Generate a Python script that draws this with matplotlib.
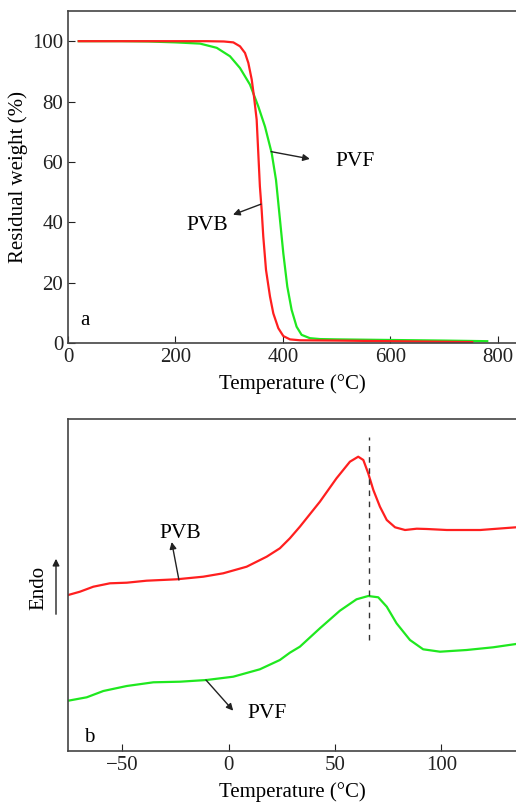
import matplotlib
matplotlib.use("Agg")
from matplotlib import pyplot as plt
from matplotlib.patches import FancyArrowPatch

plt.rcParams['font.family'] = ['Liberation Serif', 'DejaVu Serif']

# (a) TGA, residual weight (%) vs temperature (C)
pvb_t = [20, 100, 200, 258, 290, 307.6, 320, 329.3, 335.5, 341.8, 346, 351, 354, 357, 360.3, 363.3,
         368.4, 375.8, 382, 391.3, 400.6, 413, 431.6, 500, 600, 700, 752]
pvb_w = [100, 100, 100, 100, 99.9, 99.6, 98.3, 96.1, 92.8, 87.3, 81.7, 74, 63, 51.9, 44.1, 35.3,
         24.2, 15.4, 9.8, 4.9, 2.3, 1.2, 0.9, 0.8, 0.6, 0.4, 0.3]
pvf_t = [20, 100, 150, 200, 245.6, 276.7, 301.4, 320, 338.6, 354, 366.5, 379, 387, 394.4, 400.6, 408,
         416, 425.3, 434.6, 450, 469, 500, 600, 700, 780]
pvf_w = [100, 100, 99.9, 99.6, 99.2, 97.8, 95, 91.1, 85.6, 78.4, 71.7, 62.9, 54, 40.8, 29.7, 18.7,
         11, 5.4, 2.7, 1.6, 1.3, 1.2, 1.0, 0.8, 0.6]

# (b) DSC, heat flow in arbitrary units
dsc_pvb_t = [-75.3, -69.8, -63.5, -55.7, -47.8, -38.5, -24.4, -11.9, -2.5, 8.5, 17.9, 24.1, 28.8, 33.5,
             42.9, 50.7, 57, 60.9, 63.3, 65.6, 68, 71.1, 74.3, 78.2, 82.9, 88.4, 93.1, 102.5, 118.2, 135]
dsc_pvb_y = [156, 159.3, 164.3, 167.7, 168.3, 170.3, 171.7, 174.3, 177.7, 184.3, 194.3, 202.7, 212.7, 224.3,
             249.3, 272.7, 289.3, 294.3, 291, 277.7, 261, 244.3, 231, 223.7, 221, 222.3, 222, 221, 221, 223.7]
dsc_pvf_t = [-75.3, -66.6, -58.8, -47.8, -35.3, -22.8, -10.3, 2.2, 14.7, 24.1, 28.8, 33.5, 42.9, 52.3,
             60.1, 65.6, 70.3, 74.3, 78.9, 85.2, 91.4, 99.3, 111.8, 124.3, 135]
dsc_pvf_y = [50.3, 53.7, 60, 65, 68.7, 69.3, 71, 74.3, 81.7, 91, 98.3, 104.3, 122.7, 140.3,
             151.7, 155, 153.7, 144.3, 127.7, 111, 101.7, 99.3, 101, 103.7, 107]
peak_t = 66.0

red = '#ff1f1f'
green = '#1fe81f'
W, H = 516, 807
fig = plt.figure(figsize=(W / 100, H / 100), dpi=100)


def arrow(ax, head, tail):
    ax.annotate('', xy=head, xytext=tail,
                arrowprops=dict(arrowstyle='-|>', color='#222222', lw=1, shrinkA=0, shrinkB=0,
                                mutation_scale=10))


ax1 = fig.add_axes([68 / W, 1 - 343 / H, 448 / W, 332 / H])
ax1.plot(pvf_t, pvf_w, color=green, lw=1.6)
ax1.plot(pvb_t, pvb_w, color=red, lw=1.6)
ax1.set_xlim(0, 833.5)
ax1.set_ylim(0, 110)
ax1.set_xticks([0, 200, 400, 600, 800])
ax1.set_yticks([0, 20, 40, 60, 80, 100])
ax1.set_xlabel('Temperature (°C)', fontsize=15, labelpad=5)
ax1.set_ylabel('Residual weight (%)', fontsize=15, labelpad=3)
ax1.text(22, 6, 'a', fontsize=15)
ax1.text(497, 60, 'PVF', fontsize=15.5, va='center', ha='left')
arrow(ax1, (450, 61), (378, 63.4))
ax1.text(259, 39, 'PVB', fontsize=15.5, ha='center', va='center')
arrow(ax1, (307, 42.5), (359, 46))

ax2 = fig.add_axes([68 / W, 1 - 751 / H, 448 / W, 332 / H])
ax2.plot(dsc_pvb_t, dsc_pvb_y, color=red, lw=1.6)
ax2.plot(dsc_pvf_t, dsc_pvf_y, color=green, lw=1.6)
ax2.plot([peak_t, peak_t], [111, 314], color='#333333', lw=1, ls=(0, (4, 4)))
ax2.set_xlim(-75.4, 135)
ax2.set_ylim(0, 332)
ax2.set_xticks([-50, 0, 50, 100])
ax2.set_xticklabels(['\u221250', '0', '50', '100'])
ax2.set_yticks([])
ax2.set_xlabel('Temperature (°C)', fontsize=15, labelpad=5)
ax2.text(-67.9, 14, 'b', fontsize=15, va='center')
ax2.text(-22.8, 218, 'PVB', fontsize=15.5, ha='center', va='center')
arrow(ax2, (-26.7, 209), (-23.3, 171))
ax2.text(17.9, 38, 'PVF', fontsize=15.5, ha='center', va='center')
arrow(ax2, (2.2, 40.3), (-10.6, 71))

fig.text(39 / W, 1 - 588 / H, 'Endo', rotation=90, fontsize=15, ha='center', va='center')
fig.add_artist(FancyArrowPatch((56 / W, 1 - 617 / H), (56 / W, 1 - 556 / H),
                               transform=fig.transFigure, arrowstyle='-|>',
                               mutation_scale=10, color='#222222', lw=1))

for ax in (ax1, ax2):
    ax.spines['right'].set_visible(False)
    for s in ('left', 'top', 'bottom'):
        ax.spines[s].set_color('#444444')
        ax.spines[s].set_linewidth(1.2)
    ax.tick_params(direction='in', length=5, labelsize=15, colors='#222222', top=False, right=False)

fig.savefig('out.png', dpi=100)
